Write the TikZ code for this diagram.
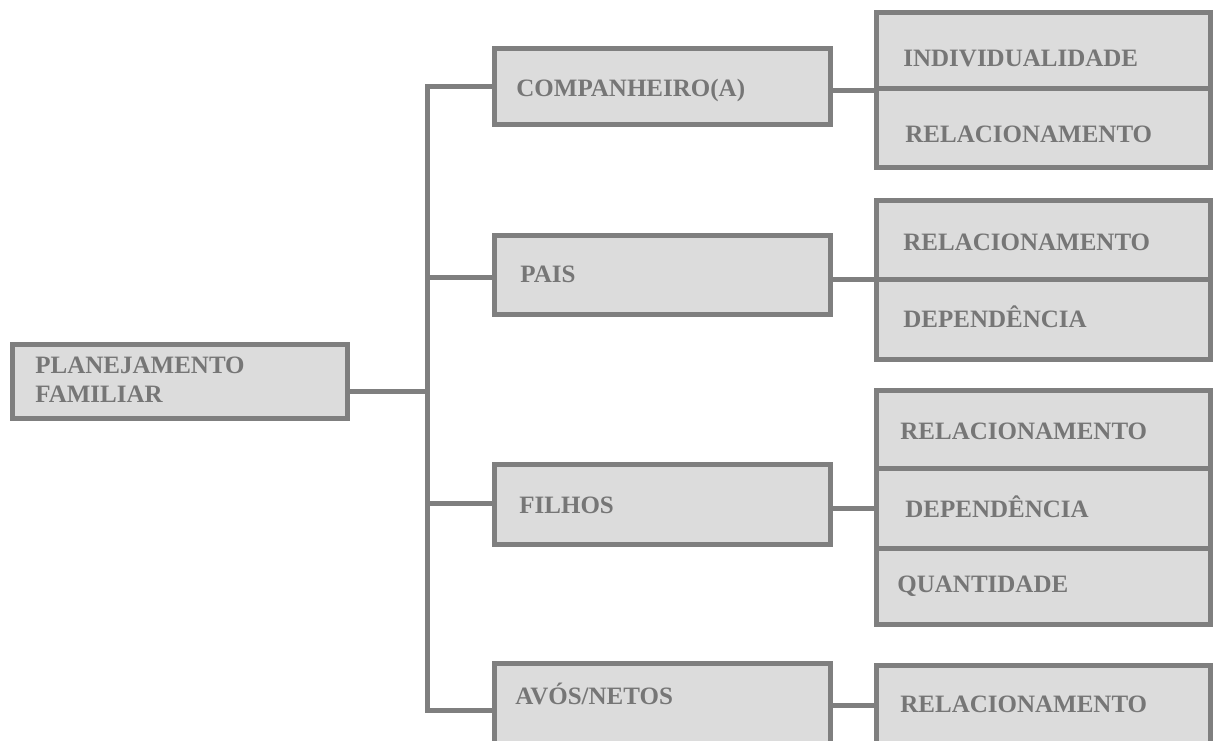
\documentclass[tikz,border=0pt]{standalone}
\usepackage{fontspec}
\setmainfont{Liberation Serif}
\usetikzlibrary{fit}
\definecolor{edgegray}{HTML}{7F7F7F}
\definecolor{boxfill}{HTML}{DCDCDC}
\definecolor{labelgray}{HTML}{767676}
\tikzset{
  boxst/.style={draw=edgegray, fill=boxfill, line width=2.5pt, inner sep=0pt, outer sep=0pt, rectangle},
  link/.style={draw=edgegray, line width=2.5pt, line join=miter},
  lbl/.style={anchor=base west, inner sep=0pt, text=labelgray,
    font=\fontsize{12.5}{15}\selectfont\bfseries}
}
% box from two corner points on the border centre line
\newcommand{\mkbox}[5]{%
  \coordinate (#1-a) at (#2,#3);
  \coordinate (#1-b) at (#4,#5);
  \node[boxst, fit=(#1-a)(#1-b)] (#1) {};
}
\begin{document}
\begin{tikzpicture}[x=0.5pt, y=-0.5pt]
\useasboundingbox (0,0) rectangle (1215,740);
\clip (0,0) rectangle (1215,740);

% junctions on the trunk
\coordinate (jt) at (427,86);
\coordinate (jr) at (427,391);
\coordinate (jp) at (427,277);
\coordinate (jf) at (427,503);
\coordinate (jb) at (427,710);

% boxes
\mkbox{root}{12.5}{344.5}{347.5}{418.5}
\mkbox{comp}{494.5}{48.5}{830}{124.5}
\mkbox{pais}{494}{235.5}{830}{314.5}
\mkbox{filhos}{494.5}{464.5}{830.5}{544.5}
\mkbox{avos}{494}{663.5}{830}{770}

\mkbox{c1}{876.5}{12.5}{1210.5}{88}
\mkbox{c2}{876.5}{88}{1210.5}{167.5}
\mkbox{p1}{876.5}{200.5}{1210.5}{279}
\mkbox{p2}{876.5}{279}{1210.5}{359.5}
\mkbox{f1}{876.5}{390.5}{1210.5}{468}
\mkbox{f2}{876.5}{468}{1210.5}{548}
\mkbox{f3}{876.5}{548}{1210.5}{624.5}
\mkbox{a1}{876.5}{665.5}{1210.5}{770}

% trunk and branches
\draw[link] (comp.west |- jt) -| (jb) -- (avos.west |- jb);
\draw[link] (root.east |- jr) -- (jr);
\draw[link] (jp) -- (pais.west |- jp);
\draw[link] (jf) -- (filhos.west |- jf);

% links to the detail column
\coordinate (rc) at (0,90);
\coordinate (rp) at (0,279);
\coordinate (rf) at (0,508);
\coordinate (ra) at (0,705);
\draw[link] (comp.east |- rc) -- (c1.west |- rc);
\draw[link] (pais.east |- rp) -- (p1.west |- rp);
\draw[link] (filhos.east |- rf) -- (f2.west |- rf);
\draw[link] (avos.east |- ra) -- (a1.west |- ra);

% labels
\node[lbl] (t-root1) at (35,373) {PLANEJAMENTO};
\node[lbl] (t-root2) at (35,402) {FAMILIAR};
\node[lbl] (t-comp) at (516,96) {COMPANHEIRO(A)};
\node[lbl] (t-pais) at (520,282) {PAIS};
\node[lbl] (t-filhos) at (519,513) {FILHOS};
\node[lbl] (t-avos) at (515,704) {AVÓS/NETOS};

\node[lbl] (t-c1) at (903,66) {INDIVIDUALIDADE};
\node[lbl] (t-c2) at (905,142) {RELACIONAMENTO};
\node[lbl] (t-p1) at (903,250) {RELACIONAMENTO};
\node[lbl] (t-p2) at (903,327) {DEPENDÊNCIA};
\node[lbl] (t-f1) at (900,439) {RELACIONAMENTO};
\node[lbl] (t-f2) at (905,517) {DEPENDÊNCIA};
\node[lbl] (t-f3) at (897,592) {QUANTIDADE};
\node[lbl] (t-a1) at (900,712) {RELACIONAMENTO};
\end{tikzpicture}
\end{document}
